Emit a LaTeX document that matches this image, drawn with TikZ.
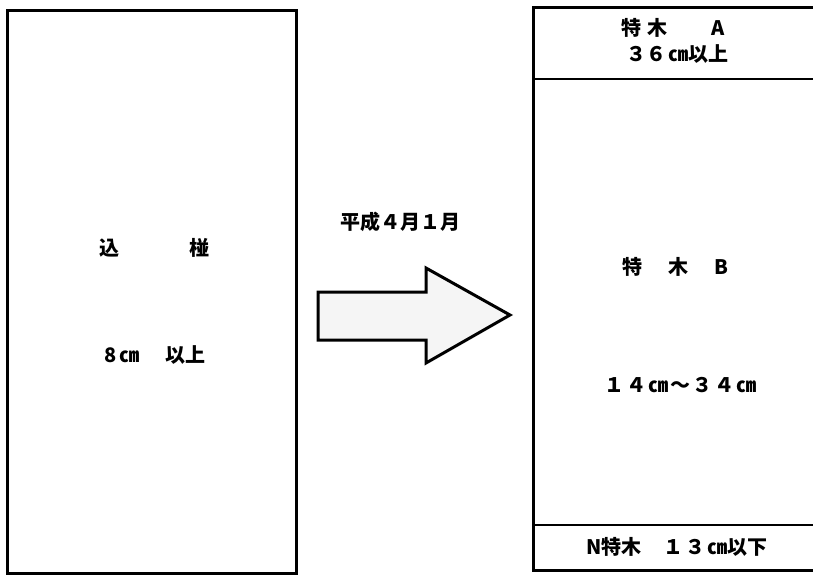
\documentclass[tikz,border=0pt]{standalone}
\usepackage{fontspec}
\newfontfamily\jp{Noto Sans CJK JP}
\begin{document}
\begin{tikzpicture}[x=1pt,y=-1pt,
  frame/.style={line width=3pt,line join=miter},
  divider/.style={line width=2.6pt},
  lbl/.style={font=\jp\bfseries\fontsize{20}{22}\selectfont,inner sep=0pt,anchor=center},
  arrowshape/.style={line width=3pt,line join=miter,fill=black!4}]
\useasboundingbox (0,0) rectangle (813,574);
% left box
\draw[frame] (7,10) rectangle (296,573);
\node[lbl] (komi) at (154,248) {込\hspace{70pt}椪};
\node[lbl] (eight) at (155,355) {8\hspace{3pt}㎝\hspace{26pt}以上};
% arrow
\draw[arrowshape] (318,292) -- (426,292) -- (426,268) -- (510,315) -- (426,363) -- (426,340) -- (318,340) -- cycle;
\node[lbl] (date) at (400,222) {平成４月１月};
% right box
\draw[frame] (533,7) -- (830,7) -- (830,570) -- (533,570) -- cycle;
\coordinate (d1l) at (533,79);
\coordinate (d1r) at (830,79);
\coordinate (d2l) at (533,525);
\coordinate (d2r) at (830,525);
\draw[divider] (d1l) -- (d1r);
\draw[divider] (d2l) -- (d2r);
\node[lbl] (ta) at (673,28) {特\hspace{6pt}木\hspace{44pt}A};
\node[lbl] (ta2) at (677,54) {３６\hspace{2pt}㎝以上};
\node[lbl] (tb) at (675,267) {特\hspace{26pt}木\hspace{26pt}B};
\node[lbl] (tb2) at (680,385) {１\hspace{2pt}４\hspace{2pt}㎝\hspace{2pt}～\hspace{2pt}３\hspace{2pt}４\hspace{2pt}㎝};
\node[lbl] (nt) at (677,547) {N特木\hspace{22pt}１\hspace{2pt}３\hspace{2pt}㎝以下};
\end{tikzpicture}
\end{document}
